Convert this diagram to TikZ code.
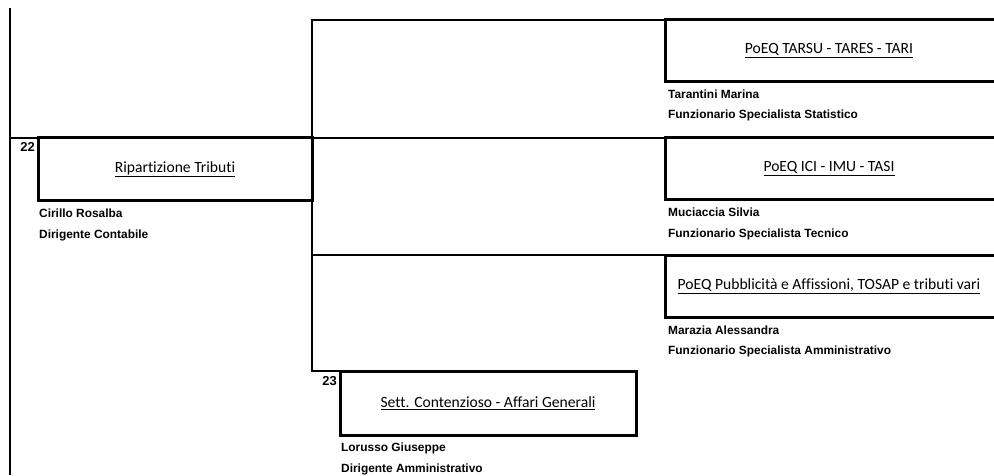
\documentclass[tikz,border=0pt]{standalone}
\usepackage{fontspec}
\setmainfont{Liberation Sans}
\newfontfamily\calibri[Ligatures={NoCommon,NoContextual},Contextuals=NoAlternate]{Carlito}
\usetikzlibrary{positioning}

\tikzset{
  ufficio/.style={draw, line width=3pt, rectangle, inner sep=0pt, outer sep=0pt, anchor=north west},
  titolo/.style={inner sep=0pt, font=\calibri\fontsize{15.6}{18}\selectfont},
  persona/.style={anchor=west, inner sep=0pt, font=\bfseries\fontsize{11.9}{13}\selectfont},
  numero/.style={anchor=north east, inner sep=0pt, font=\bfseries\fontsize{13}{14}\selectfont},
  linea/.style={line width=2pt}
}

\begin{document}
\begin{tikzpicture}[x=1pt, y=-1pt]
\useasboundingbox (0,0) rectangle (994,475);
\clip (0,0) rectangle (994,475);

% uffici
\node[ufficio, minimum width=274pt, minimum height=63pt, titolo] (b22) at (38,137.5) {\underline{Ripartizione Tributi}};
\node[ufficio, minimum width=346pt, minimum height=62pt] (tarsu) at (665,19.5) {};
\node[ufficio, minimum width=346pt, minimum height=62pt] (ici) at (665,137.5) {};
\node[ufficio, minimum width=346pt, minimum height=62pt] (pubb) at (665,255) {};
\node[ufficio, minimum width=296pt, minimum height=64pt, titolo] (b23) at (340,371) {\underline{Sett. Contenzioso - Affari Generali}};

\node[titolo] (ttarsu) at ([xshift=164pt]tarsu.west) {\underline{PoEQ TARSU - TARES - TARI}};
\node[titolo] (tici) at ([xshift=164pt]ici.west) {\underline{PoEQ ICI - IMU - TASI}};
\node[titolo] (tpubb) at ([xshift=164pt]pubb.west) {\underline{PoEQ Pubblicità e Affissioni, TOSAP e tributi vari}};

\node[numero] (num22) at ([xshift=-3pt,yshift=-5pt]b22.north west) {22};
\node[numero] (num23) at ([xshift=-3pt,yshift=-5pt]b23.north west) {23};

% responsabili
\node[persona] (n22a) at ([xshift=1pt,yshift=-13pt]b22.south west) {Cirillo Rosalba};
\node[persona] (n22b) at ([xshift=1pt,yshift=-35pt]b22.south west) {Dirigente Contabile};
\node[persona] (ntarsua) at ([xshift=3pt,yshift=-13pt]tarsu.south west) {Tarantini Marina};
\node[persona] (ntarsub) at ([xshift=3pt,yshift=-34pt]tarsu.south west) {Funzionario Specialista Statistico};
\node[persona] (nicia) at ([xshift=3pt,yshift=-13pt]ici.south west) {Muciaccia Silvia};
\node[persona] (nicib) at ([xshift=3pt,yshift=-35pt]ici.south west) {Funzionario Specialista Tecnico};
\node[persona] (npubba) at ([xshift=3pt,yshift=-13pt]pubb.south west) {Marazia Alessandra};
\node[persona] (npubbb) at ([xshift=3pt,yshift=-34pt]pubb.south west) {Funzionario Specialista Amministrativo};
\node[persona] (n23a) at ([xshift=1pt,yshift=-13pt]b23.south west) {Lorusso Giuseppe};
\node[persona] (n23b) at ([xshift=1pt,yshift=-34pt]b23.south west) {Dirigente Amministrativo};

% collegamenti
\coordinate (cima) at (10,8);
\coordinate (fondo) at (10,475);
\draw[linea] (cima) -- (fondo);
\draw[linea] (cima |- b22.north west) -- (b22.north west);
\draw[linea] (b22.north east) |- (tarsu.north west);
\draw[linea] (b22.north east) -- (ici.north west);
\draw[linea] (b22.north east) |- (pubb.north west);
\draw[linea] (b22.north east) |- (b23.north west);
\end{tikzpicture}
\end{document}
